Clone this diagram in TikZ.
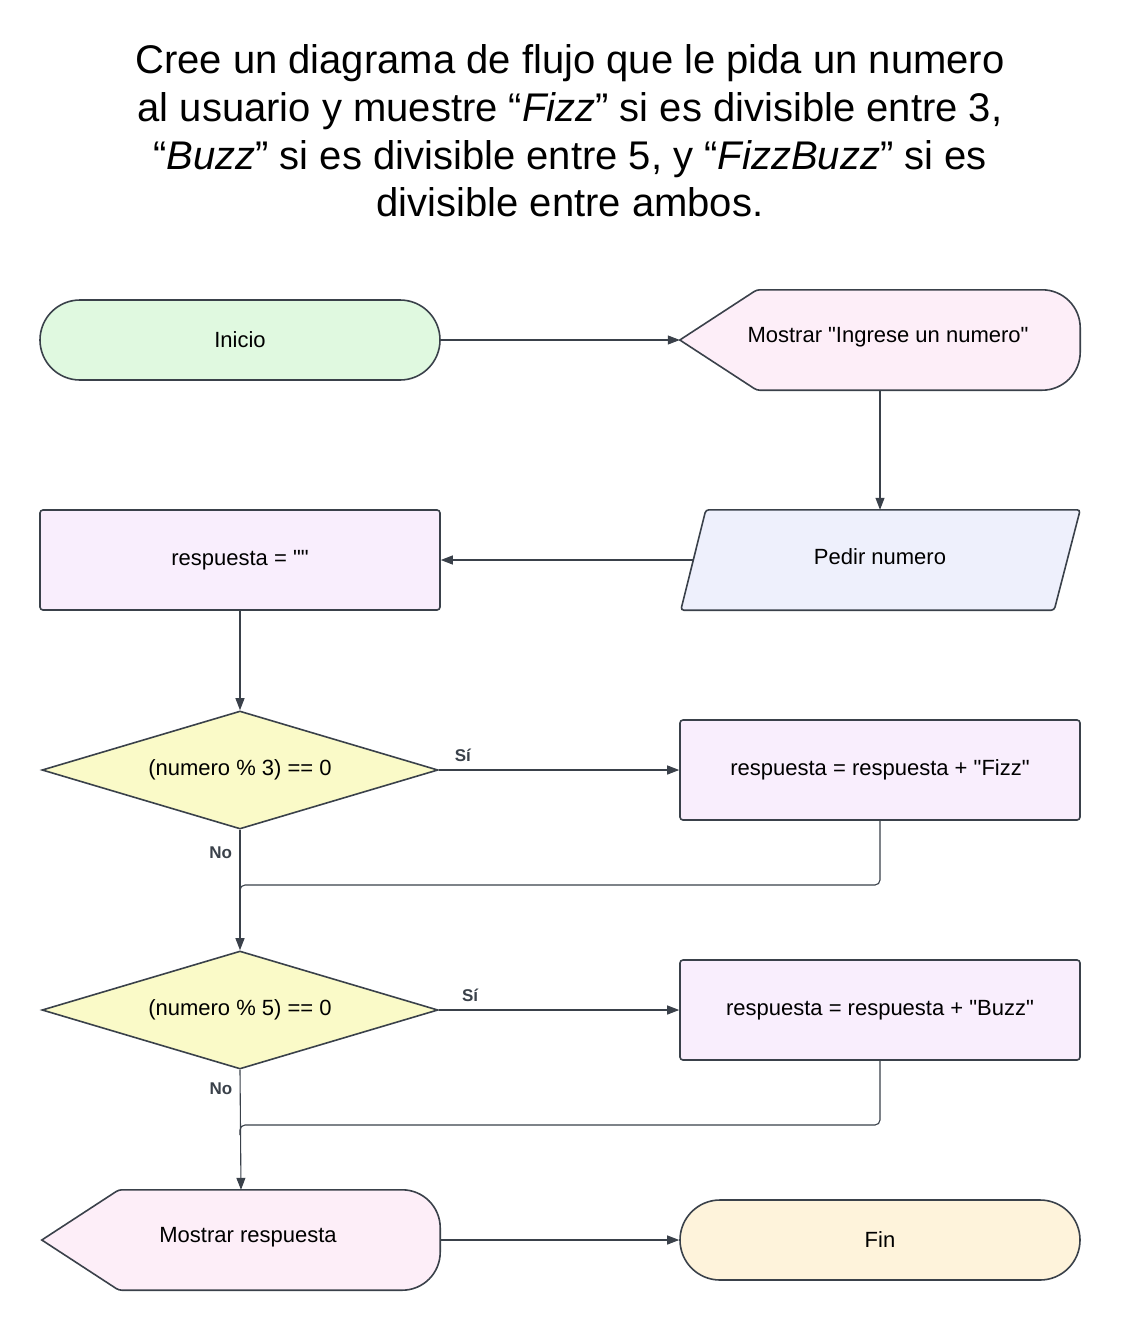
\documentclass[tikz,border=0pt]{standalone}
\usepackage{fontspec}
\setmainfont{Liberation Sans}[Ligatures=TeXOff]
\usetikzlibrary{shapes.geometric,arrows.meta}
\definecolor{ln}{HTML}{3A414A}
\definecolor{cgreen}{HTML}{E0F9E0}
\definecolor{cpink}{HTML}{FDEEF8}
\definecolor{cpurple}{HTML}{F9EEFD}
\definecolor{cblue}{HTML}{EEF0FC}
\definecolor{cyellow}{HTML}{FAFAC8}
\definecolor{ccream}{HTML}{FEF3DB}
\begin{document}
\begin{tikzpicture}[x=1pt,y=1pt,
  txt/.style={font=\fontsize{22}{26}\selectfont, text=black},
  shp/.style={draw=ln, line width=1.6pt},
  anchorbox/.style={txt, minimum width=400pt, minimum height=100pt, inner sep=0pt},
  terminal/.style={txt, shp, rounded corners=40pt, minimum width=400pt, minimum height=80pt, inner sep=0pt},
  procbox/.style={txt, shp, rounded corners=3pt, fill=cpurple, minimum width=400pt, minimum height=100pt, inner sep=0pt},
  decision/.style={txt, shp, diamond, aspect=3.36, fill=cyellow, minimum width=396pt, minimum height=118pt, inner sep=0pt},
  conn/.style={draw=ln, line width=1.1pt},
  arr/.style={conn, -{Triangle[length=12pt,width=9pt]}},
  lab/.style={font=\bfseries\fontsize{17}{20}\selectfont, text=ln}
]
\useasboundingbox (0,0) rectangle (1120,-1330);
\fill[white] (0,0) rectangle (1120,-1330);

% title
\node[font=\fontsize{40}{47.7}\selectfont, align=center, text=black] (title) at (570,-131)
 {Cree un diagrama de flujo que le pida un numero\\
  al usuario y muestre “\textit{Fizz}” si es divisible entre 3,\\
  “\textit{Buzz}” si es divisible entre 5, y “\textit{FizzBuzz}” si es\\
  divisible entre ambos.};

% nodes
\node[terminal, fill=cgreen] (ini) at (240,-340) {Inicio};

\node[anchorbox] (m1) at (880,-340) {};
\filldraw[shp, fill=cpink] (m1.west) [rounded corners=3pt] -- ([xshift=77pt]m1.north west)
  [rounded corners=38pt] -- (m1.north east) -- (m1.south east)
  [rounded corners=3pt] -- ([xshift=77pt]m1.south west) [sharp corners] -- cycle;
\node[txt] (m1t) at ([xshift=8pt,yshift=3pt]m1.center) {Mostrar "Ingrese un numero"};

\node[anchorbox] (pn) at (880,-560) {};
\filldraw[shp, fill=cblue, rounded corners=3pt] ([xshift=1pt]pn.south west) -- ([xshift=26pt]pn.north west)
  -- (pn.north east) -- ([xshift=-26pt]pn.south east) -- cycle;
\node[txt] (pnt) at ([yshift=3pt]pn.center) {Pedir numero};

\node[procbox] (r0) at (240,-560) {respuesta = ""};

\node[decision] (d1) at (240,-770) {(numero \% 3) == 0};
\node[procbox] (fz) at (880,-770) {respuesta = respuesta + "Fizz"};

\node[decision] (d2) at (240,-1010) {(numero \% 5) == 0};
\node[procbox] (bz) at (880,-1010) {respuesta = respuesta + "Buzz"};

\node[anchorbox, minimum width=398pt] (mr) at (241,-1240) {};
\filldraw[shp, fill=cpink] (mr.west) [rounded corners=3pt] -- ([xshift=77pt]mr.north west)
  [rounded corners=38pt] -- (mr.north east) -- (mr.south east)
  [rounded corners=3pt] -- ([xshift=77pt]mr.south west) [sharp corners] -- cycle;
\node[txt] (mrt) at ([xshift=7pt,yshift=3pt]mr.center) {Mostrar respuesta};

\node[terminal, fill=ccream] (fin) at (880,-1240) {Fin};

% junctions
\coordinate (j1) at (240,-885);
\coordinate (j2) at (240,-1125);

% connectors
\draw[arr] (ini.east) -- (m1.west);
\draw[arr] (m1.south) -- (pn.north);
\draw[arr] ([xshift=13pt]pn.west) -- (r0.east);
\draw[arr] (r0.south) -- (d1.north);
\draw[arr] (d1.east) -- node[lab, pos=0.1, above=4pt] (s1) {Sí} (fz.west);
\draw[arr] (d1.south) -- node[lab, pos=0.19, left=4pt] (n1) {No} (d2.north);
\draw[conn, rounded corners=5pt] (fz.south) |- (j1) -- ([yshift=-10pt]j1);
\draw[arr] (d2.east) -- node[lab, pos=0.13, above=4pt] (s2) {Sí} (bz.west);
\draw[arr] (d2.south) -- node[lab, pos=0.16, left=4pt] (n2) {No} (mr.north);
\draw[conn, rounded corners=5pt] (bz.south) |- (j2) -- ([yshift=-10pt]j2);
\draw[arr] (mr.east) -- (fin.west);
\end{tikzpicture}
\end{document}
